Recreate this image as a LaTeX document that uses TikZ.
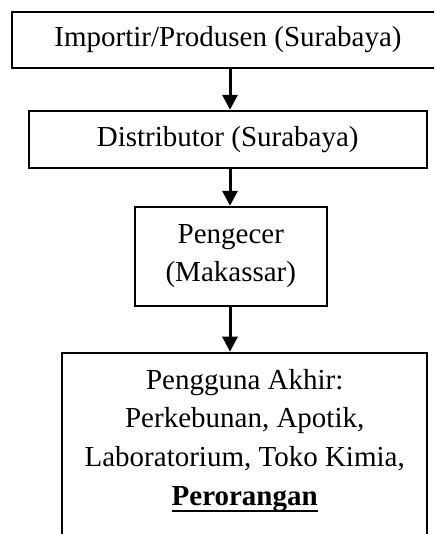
\documentclass[tikz,border=0pt]{standalone}
\usepackage{fontspec}
\setmainfont{Liberation Serif}
\usetikzlibrary{arrows.meta}
\newcommand\myul[1]{\setbox0\hbox{#1}\rlap{\rule[-6.8pt]{\wd0}{2.6pt}}\box0}
\begin{document}
\begin{tikzpicture}[x=1pt,y=-1pt,
  boxstyle/.style={draw, line width=1.8pt, align=center, inner sep=0pt,
    font=\fontsize{29}{38.7}\selectfont},
  arr/.style={line width=3pt, -{Triangle[width=15pt,length=15pt]}}]
\useasboundingbox (0,0) rectangle (434,534);
\clip (0,0) rectangle (434,534);
\coordinate (ax) at (230,0);
\node[boxstyle, minimum width=432, minimum height=56] (imp) at (228,40) {Importir/Produsen (Surabaya)};
\node[boxstyle, minimum width=398, minimum height=57] (dist) at (227.7,139.2) {Distributor (Surabaya)};
\node[boxstyle, minimum width=191.7, minimum height=99] (ret) at (230.8,256.2) {Pengecer\\(Makassar)};
\node[boxstyle, minimum width=364.7, anchor=north, inner ysep=16.5pt, text depth=120pt] (user) at (244.7,351.7)
  {Pengguna Akhir:\\Perkebunan, Apotik,\\Laboratorium, Toko Kimia,\\\myul{\textbf{Perorangan}}};
\draw[arr] (imp.south -| ax) -- (dist.north -| ax);
\draw[arr] (dist.south -| ax) -- (ret.north -| ax);
\draw[arr] (ret.south -| ax) -- (user.north -| ax);
\end{tikzpicture}
\end{document}
